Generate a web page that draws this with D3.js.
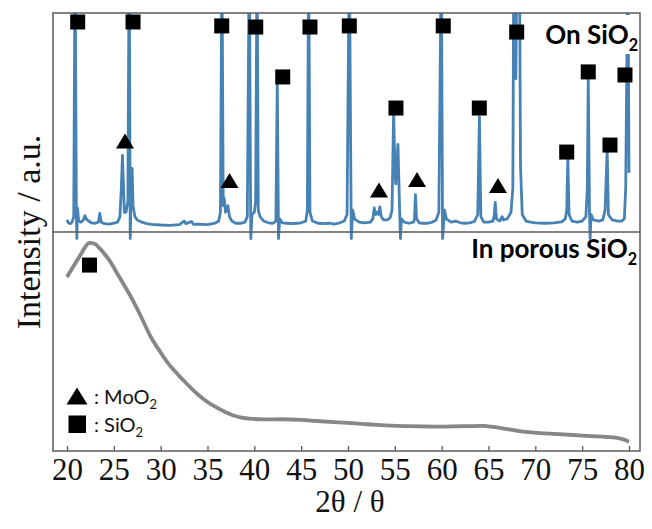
<!DOCTYPE html>
<html>
<head>
<meta charset="utf-8">
<script src="https://cdn.jsdelivr.net/npm/d3@7"></script>
<style>
  html, body { margin: 0; padding: 0; background: #fff; }
  svg { display: block; }
</style>
</head>
<body>
<svg id="chart" width="652" height="529"></svg>
<script>
// XRD scan on a flat SiO2 substrate (2θ in degrees, intensity in panel-relative units; >100 runs off scale)
const twoThetaTop = [
  20.00, 20.15, 20.35, 20.55, 20.72, 20.86, 21.00, 21.05, 21.12, 21.25, 21.50, 21.75, 21.90, 22.05, 22.30,
  22.60, 23.00, 23.35, 23.50, 23.65, 24.00, 24.50, 25.00, 25.40, 25.65, 25.80, 25.92, 26.02, 26.12, 26.30,
  26.50, 26.64, 26.75, 26.85, 26.95, 27.05, 27.25, 27.50, 28.00, 28.50, 29.00, 30.00, 31.00, 32.00, 32.50,
  32.70, 33.30, 33.50, 34.00, 35.00, 35.80, 36.20, 36.38, 36.54, 36.68, 36.78, 36.92, 37.05, 37.18, 37.35,
  37.60, 38.00, 38.60, 39.00, 39.25, 39.46, 39.62, 39.75, 40.00, 40.14, 40.29, 40.42, 40.60, 41.00, 41.50,
  42.00, 42.30, 42.45, 42.58, 42.70, 43.00, 43.50, 44.00, 44.50, 45.00, 45.50, 45.66, 45.80, 45.94, 46.20,
  46.80, 47.50, 48.00, 48.50, 49.00, 49.60, 49.90, 50.14, 50.35, 50.50, 50.70, 51.20, 51.80, 52.40, 52.65,
  52.80, 52.95, 53.10, 53.25, 53.40, 53.55, 53.80, 54.20, 54.50, 54.70, 54.87, 55.00, 55.10, 55.33, 55.50,
  55.60, 55.70, 56.00, 56.50, 57.00, 57.10, 57.20, 57.32, 57.60, 58.00, 58.50, 59.00, 59.40, 59.70, 59.96,
  60.10, 60.30, 60.50, 61.00, 61.50, 62.00, 62.50, 63.00, 63.50, 63.85, 64.03, 64.18, 64.50, 65.00, 65.50,
  65.62, 65.72, 65.85, 66.20, 66.45, 66.60, 67.00, 67.40, 67.60, 67.70, 67.80, 67.92, 68.05, 68.20, 68.30,
  68.42, 68.60, 69.00, 69.50, 70.00, 71.00, 72.00, 72.80, 73.20, 73.35, 73.47, 73.60, 73.90, 74.50, 75.00,
  75.40, 75.55, 75.65, 75.78, 75.85, 75.95, 76.20, 76.80, 77.20, 77.45, 77.67, 77.80, 78.20, 78.80, 79.20,
  79.50, 79.65, 79.88, 80.00
];
const intensityTop = [
  5.5, 4.2, 3.8, 4.6, 7, 130, 8, -3, 11, 5, 4.5, 5.5, 7.5, 6, 5,
  4.2, 4.0, 4.5, 8.5, 4.5, 3.8, 3.6, 4.0, 4.5, 7, 20, 35, 22, 9, 9,
  14, 130, -3, 20, 29, 12, 7, 5.5, 4.5, 3.8, 3.5, 3.2, 3.0, 3.4, 5,
  3.8, 4.8, 3.5, 3.6, 3.4, 4.0, 5.0, 9, 130, 12, 15.5, 9, 10, 12, 7,
  5, 4, 4, 4.5, 7, 130, -3, 8, 9, 14, 130, 10, 7, 5, 4.2,
  4, 5, 68.5, -3, 6, 4.2, 4, 3.8, 4, 4.2, 5, 10, 130, 9, 5,
  4, 3.8, 4, 3.6, 4, 5, 8, 130, -3, 10, 6, 4.5, 4.2, 4.5, 6,
  11, 8, 9, 8, 11.5, 7, 5.5, 5.5, 6.5, 10, 55, 30, 22, 40, 12,
  -3, 6, 4.5, 4, 4.5, 6, 17, 6, 4.2, 4, 4, 4.5, 5.5, 9, 130,
  -3, 10, 6, 4.5, 5, 4.2, 4, 4.2, 4.8, 8, 52.5, 7, 4.5, 4.5, 5,
  8, 13.5, 6, 5, 7, 5.5, 6, 9, 20, 130, 130, 70, 130, 130, 130,
  30, 8, 5, 4.5, 4.2, 4, 4.2, 4.6, 6, 10, 34, 8, 5, 4.5, 5,
  7, 20, 71, 10, -3, 8, 5.5, 5, 5.5, 10, 37.5, 8, 5.5, 5, 5,
  6, 20, 130, 27
];

// XRD scan inside porous SiO2: broad amorphous hump
const twoThetaBottom = [
  20.0, 20.5, 21.0, 21.5, 22.0, 22.4, 23.0, 23.5, 24.0, 24.7, 25.3, 26.0, 27.0, 28.0, 28.9,
  30.0, 30.7, 31.5, 32.4, 33.3, 34.2, 35.0, 36.0, 37.0, 37.7, 38.5, 39.5, 41.0, 43.0, 45.0,
  46.7, 48.5, 50.0, 51.5, 52.7, 54.5, 56.0, 58.0, 59.8, 62.0, 64.4, 65.5, 67.0, 68.5, 70.5,
  72.0, 74.0, 76.0, 77.6, 79.0, 79.6, 80.0
];
const intensityBottom = [
  79.5, 83.0, 86.5, 90.0, 93.5, 95.0, 94.5, 92.5, 90.0, 86.0, 81.5, 76.5, 69.0, 60.5, 52.5,
  45.0, 40.6, 36.5, 32.4, 28.5, 25.0, 22.4, 19.8, 17.6, 16.3, 15.4, 14.8, 14.4, 14.5, 14.2,
  13.7, 13.2, 12.8, 12.4, 12.0, 11.6, 11.4, 11.2, 11.1, 11.3, 11.5, 11.0, 10.0, 9.0, 8.2,
  7.8, 7.3, 6.8, 6.4, 5.8, 5.0, 4.2
];

// Phase assignments marked on the scans: [2θ, intensity]
const sio2MarksTop = [
  [21.14, 95.9], [27.05, 95.9], [36.52, 94.1], [40.15, 93.6], [43.03, 70.8],
  [45.94, 93.6], [50.14, 94.1], [55.12, 56.6], [60.17, 94.1], [64.02, 56.6],
  [68.01, 91.3], [73.35, 36.5], [75.65, 73.1], [77.97, 39.7], [79.57, 71.7]
];
const moo2MarksTop = [
  [26.19, 41.6], [37.35, 23.5], [53.31, 19.2], [57.37, 24.0], [66.01, 21.2]
];
const sio2MarksBottom = [[22.4, 84.9]];

const xTicks = [20, 25, 30, 35, 40, 45, 50, 55, 60, 65, 70, 75, 80];

// Layout
const frame = { left: 53, right: 640, top: 13, mid: 232, bottom: 451 };
const svg = d3.select("#chart");
const serif = "'Liberation Serif', 'Times New Roman', Times, serif";
const sans = "Lato, 'Open Sans', sans-serif";

const x = d3.scaleLinear().domain([20, 80]).range([67, 629]);
const yTop = d3.scaleLinear().domain([0, 100]).range([frame.mid, frame.top]);
const yBottom = d3.scaleLinear().domain([0, 100]).range([frame.bottom, frame.mid]);

const defs = svg.append("defs");
defs.append("clipPath").attr("id", "clipTop")
  .append("rect")
  .attr("x", frame.left).attr("y", frame.top)
  .attr("width", frame.right - frame.left).attr("height", frame.mid - frame.top + 8);

// Top scan
const topData = twoThetaTop.map((t, i) => [t, intensityTop[i]]);
svg.append("path")
  .datum(topData)
  .attr("clip-path", "url(#clipTop)")
  .attr("fill", "none")
  .attr("stroke", "#4682b4")
  .attr("stroke-width", 2.8)
  .attr("stroke-linejoin", "round")
  .attr("d", d3.line().x(d => x(d[0])).y(d => yTop(d[1])));

// Bottom scan
const bottomData = twoThetaBottom.map((t, i) => [t, intensityBottom[i]]);
svg.append("path")
  .datum(bottomData)
  .attr("fill", "none")
  .attr("stroke", "#878787")
  .attr("stroke-width", 3.8)
  .attr("stroke-linejoin", "round")
  .attr("d", d3.line().curve(d3.curveMonotoneX).x(d => x(d[0])).y(d => yBottom(d[1])));

// Frame and panel divider
svg.append("rect")
  .attr("x", frame.left).attr("y", frame.top)
  .attr("width", frame.right - frame.left).attr("height", frame.bottom - frame.top)
  .attr("fill", "none").attr("stroke", "#5a5a5a").attr("stroke-width", 1.5);
svg.append("line")
  .attr("x1", frame.left).attr("x2", frame.right)
  .attr("y1", frame.mid).attr("y2", frame.mid)
  .attr("stroke", "#5a5a5a").attr("stroke-width", 1.5);

// Bottom axis with inward ticks
const xAxis = d3.axisBottom(x).tickValues(xTicks).tickSizeInner(-5).tickSizeOuter(0).tickPadding(7);
const gx = svg.append("g").attr("transform", `translate(0,${frame.bottom})`).call(xAxis);
gx.select(".domain").remove();
gx.selectAll(".tick line").attr("stroke", "#5a5a5a").attr("stroke-width", 1.3);
gx.selectAll(".tick text")
  .attr("font-family", serif)
  .attr("font-size", 31)
  .attr("fill", "#111");

// Axis titles
svg.append("text")
  .attr("x", 350).attr("y", 512)
  .attr("text-anchor", "middle")
  .attr("font-family", serif)
  .attr("font-size", 31)
  .attr("fill", "#111")
  .text("2θ / θ");

svg.append("text")
  .attr("transform", "translate(40,232) rotate(-90)")
  .attr("text-anchor", "middle")
  .attr("font-family", serif)
  .attr("font-size", 34)
  .attr("fill", "#111")
  .text("Intensity / a.u.");

// Markers
const sq = 15;
function squares(data, yScale, size) {
  svg.append("g").selectAll("rect").data(data).join("rect")
    .attr("x", d => x(d[0]) - size / 2)
    .attr("y", d => yScale(d[1]) - size / 2)
    .attr("width", size).attr("height", size)
    .attr("fill", "#000");
}
function triangles(data, yScale, w, h) {
  svg.append("g").selectAll("path").data(data).join("path")
    .attr("transform", d => `translate(${x(d[0])},${yScale(d[1])})`)
    .attr("d", `M0,${-h / 2}L${w / 2},${h / 2}L${-w / 2},${h / 2}Z`)
    .attr("fill", "#000");
}

// Panel labels (white backing box hides the trace behind the top label)
svg.append("rect")
  .attr("x", 536).attr("y", 15).attr("width", 102).attr("height", 39)
  .attr("fill", "#fff");

function label(xr, yb, main, sub, size, weight) {
  const t = svg.append("text")
    .attr("x", xr).attr("y", yb)
    .attr("text-anchor", "end")
    .attr("font-family", sans)
    .attr("font-weight", weight)
    .attr("font-size", size)
    .attr("fill", "#000");
  t.append("tspan").text(main);
  t.append("tspan").attr("font-size", size * 0.62).attr("dy", size * 0.25).text(sub);
  return t;
}
label(638, 44, "On SiO", "2", 26, 700);
label(637, 258, "In porous SiO", "2", 26, 700);

squares(sio2MarksTop, yTop, sq);
triangles(moo2MarksTop, yTop, 18, 15);
squares(sio2MarksBottom, yBottom, sq);

// Legend
svg.append("path")
  .attr("transform", "translate(77,396)")
  .attr("d", "M0,-8.5L10.5,8.5L-10.5,8.5Z")
  .attr("fill", "#000");
svg.append("rect")
  .attr("x", 68.5).attr("y", 415.5).attr("width", 17.5).attr("height", 17.5)
  .attr("fill", "#000");

function legendText(xl, yb, main, sub) {
  const t = svg.append("text")
    .attr("x", xl).attr("y", yb)
    .attr("font-family", sans)
    .attr("font-size", 20)
    .attr("fill", "#111");
  t.append("tspan").text(main);
  t.append("tspan").attr("font-size", 13).attr("dy", 5).text(sub);
}
legendText(94, 404, ": MoO", "2");
legendText(94, 432, ": SiO", "2");
</script>
</body>
</html>
